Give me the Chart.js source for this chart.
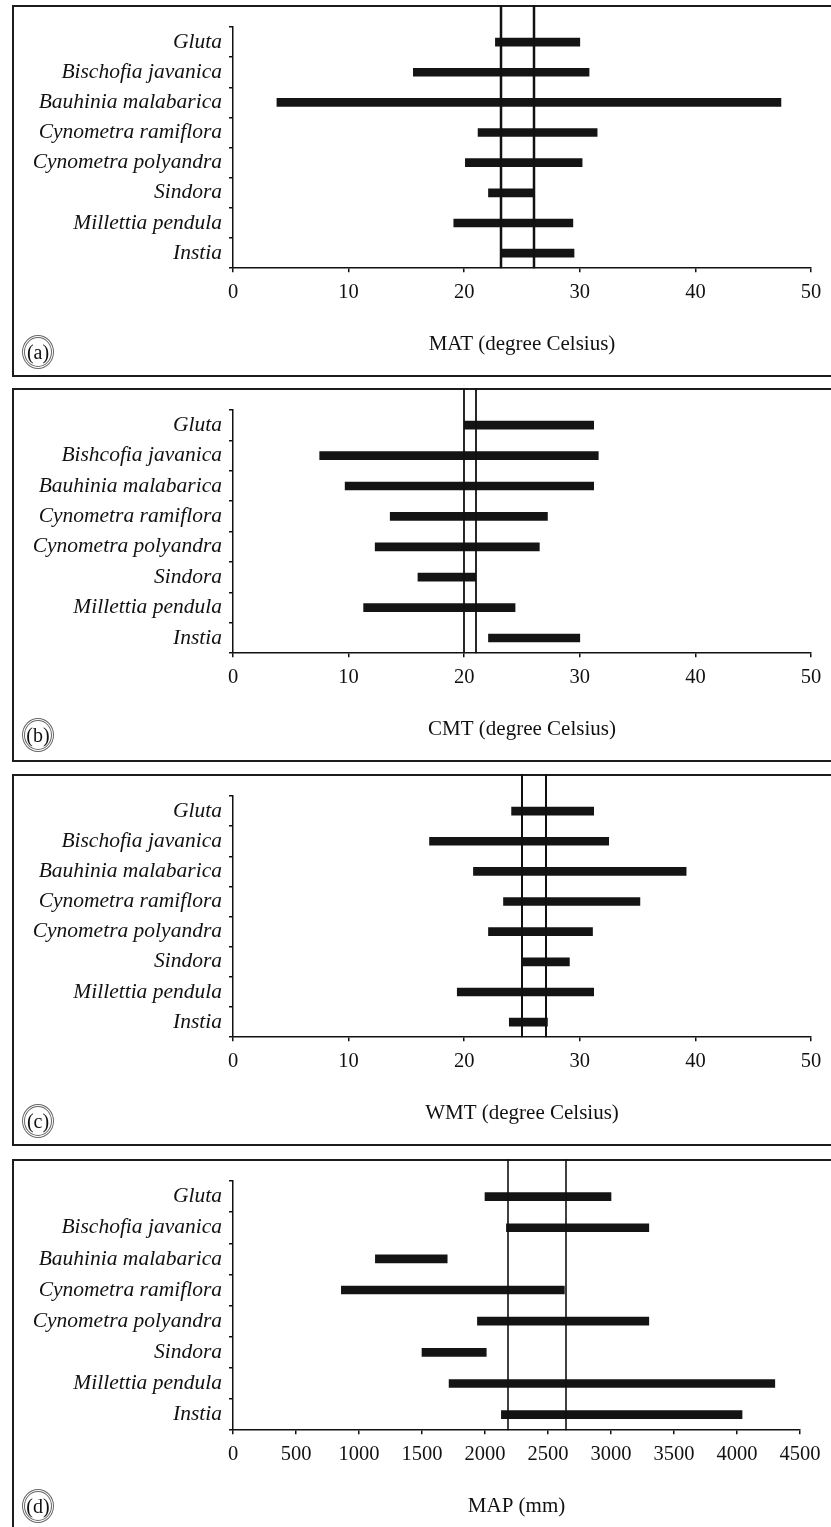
<!DOCTYPE html>
<html>
<head>
<meta charset="utf-8">
<script src="https://cdn.jsdelivr.net/npm/chart.js@4"></script>
<style>
  body { margin: 0; background: #fff; overflow: hidden; width: 831px; height: 1527px; position: relative; }
  .panel { position: absolute; left: 12px; width: 1000px; border: 2px solid #1c1c1c; box-sizing: border-box; }
  canvas { position: absolute; left: 0; }
  .tag { position: absolute; left: 22px; width: 32px; height: 34px; border-radius: 50%; border: 3px double #666;
         box-sizing: border-box; font: 20px 'Liberation Serif', serif; color: #111;
         display: flex; align-items: center; justify-content: center; }
</style>
</head>
<body>
<script>
// species, top to bottom
var species = ['Gluta', 'Bischofia javanica', 'Bauhinia malabarica', 'Cynometra ramiflora',
  'Cynometra polyandra', 'Sindora', 'Millettia pendula', 'Instia'];
// panel (b) has the misspelt name in the original figure
var speciesB = ['Gluta', 'Bishcofia javanica', 'Bauhinia malabarica', 'Cynometra ramiflora',
  'Cynometra polyandra', 'Sindora', 'Millettia pendula', 'Instia'];

var matLow  = [22.7, 15.6, 3.8, 21.2, 20.1, 22.1, 19.1, 23.2];
var matHigh = [30.0, 30.8, 47.4, 31.5, 30.2, 26.0, 29.4, 29.5];
var matRef  = [23.2, 26.0];

var cmtLow  = [20.0, 7.5, 9.7, 13.6, 12.3, 16.0, 11.3, 22.1];
var cmtHigh = [31.2, 31.6, 31.2, 27.2, 26.5, 21.0, 24.4, 30.0];
var cmtRef  = [20.0, 21.0];

var wmtLow  = [24.1, 17.0, 20.8, 23.4, 22.1, 25.1, 19.4, 23.9];
var wmtHigh = [31.2, 32.5, 39.2, 35.2, 31.1, 29.1, 31.2, 27.2];
var wmtRef  = [25.0, 27.1];

var mapLow  = [2000, 2170, 1130, 860, 1940, 1500, 1715, 2130];
var mapHigh = [3000, 3300, 1700, 2630, 3300, 2010, 4300, 4040];
var mapRef  = [2180, 2640];

var tempTitles = ['MAT (degree Celsius)', 'CMT (degree Celsius)', 'WMT (degree Celsius)'];
var mapTitle = 'MAP (mm)';

// vertical reference lines, from panel top down to the x axis
var refLinePlugin = {
  id: 'refLines',
  afterDatasetsDraw: function(chart, args, opts) {
    var ctx = chart.ctx;
    var x = chart.scales.x;
    ctx.save();
    ctx.strokeStyle = '#111';
    ctx.lineWidth = opts.lineWidth || 2;
    (opts.values || []).forEach(function(v) {
      var px = Math.round(x.getPixelForValue(v));
      ctx.beginPath();
      ctx.moveTo(px, 0);
      ctx.lineTo(px, chart.chartArea.bottom);
      ctx.stroke();
    });
    ctx.restore();
  }
};

function createConfig(p) {
  var serif = 'Liberation Serif';
  return {
    type: 'bar',
    data: {
      labels: p.labels,
      datasets: [{
        data: p.labels.map(function(l, i) { return [p.low[i], p.high[i]]; }),
        backgroundColor: '#141414',
        barThickness: 8,
        borderSkipped: false
      }]
    },
    options: {
      indexAxis: 'y',
      responsive: false,
      animation: false,
      layout: { padding: { left: 0, right: p.rightPad, top: 22, bottom: 20 } },
      plugins: {
        legend: { display: false },
        tooltip: { enabled: false },
        refLines: { values: p.refs, lineWidth: p.lineWidth }
      },
      scales: {
        x: {
          min: 0,
          max: p.max,
          ticks: { stepSize: p.step, padding: 8, maxRotation: 0, autoSkip: false, color: '#111',
                   font: { family: serif, size: 20.5 },
                   callback: function(v) { return String(v); } },
          grid: { drawOnChartArea: false, tickLength: 4, color: '#111', lineWidth: 1.5 },
          border: { color: '#111', width: 1.5 },
          title: { display: true, text: p.title, color: '#111', font: { family: serif, size: 21 },
                   padding: { top: 19, bottom: 0 } }
        },
        y: {
          afterFit: function(scale) { scale.width = 233; },
          ticks: { padding: 7, color: '#111', font: { family: serif, size: 21.5, style: 'italic' } },
          grid: { drawOnChartArea: false, offset: true, tickLength: 4, color: '#111', lineWidth: 1.5 },
          border: { color: '#111', width: 1.5 }
        }
      }
    },
    plugins: [refLinePlugin]
  };
}

window.onload = function() {
  var panels = [
    { top: 5,    height: 372, tag: '(a)', labels: species,  low: matLow, high: matHigh, refs: matRef, max: 50,   step: 10,  title: tempTitles[0], rightPad: 20, lineWidth: 2.5 },
    { top: 388,  height: 374, tag: '(b)', labels: speciesB, low: cmtLow, high: cmtHigh, refs: cmtRef, max: 50,   step: 10,  title: tempTitles[1], rightPad: 20, lineWidth: 1.8 },
    { top: 774,  height: 372, tag: '(c)', labels: species,  low: wmtLow, high: wmtHigh, refs: wmtRef, max: 50,   step: 10,  title: tempTitles[2], rightPad: 20, lineWidth: 2 },
    { top: 1159, height: 380, tag: '(d)', labels: species,  low: mapLow, high: mapHigh, refs: mapRef, max: 4500, step: 500, title: mapTitle,      rightPad: 31, lineWidth: 1.6 }
  ];

  panels.forEach(function(p) {
    var box = document.createElement('div');
    box.className = 'panel';
    box.style.top = p.top + 'px';
    box.style.height = p.height + 'px';
    document.body.appendChild(box);

    var canvas = document.createElement('canvas');
    canvas.width = 831;
    canvas.height = p.height;
    canvas.style.top = p.top + 'px';
    document.body.appendChild(canvas);

    var tag = document.createElement('div');
    tag.className = 'tag';
    tag.textContent = p.tag;
    tag.style.top = (p.top + 347 - 17) + 'px';
    document.body.appendChild(tag);

    new Chart(canvas.getContext('2d'), createConfig(p));
  });
};
</script>
</body>
</html>
